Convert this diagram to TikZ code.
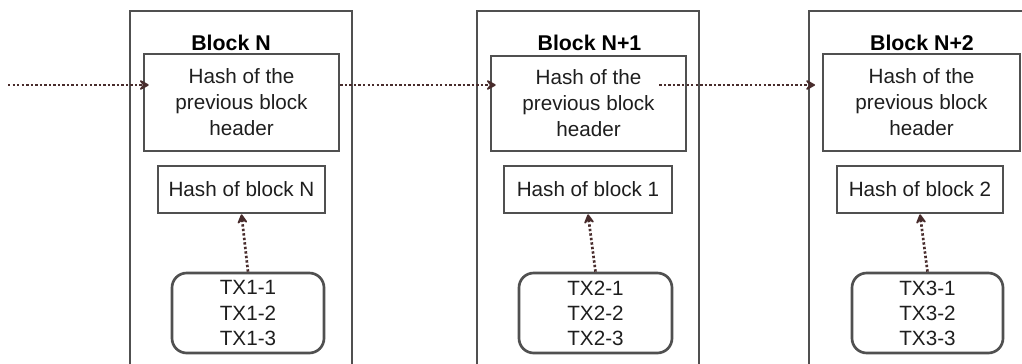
\documentclass[tikz,border=0pt]{standalone}
\usepackage{fontspec}
\setmainfont{Liberation Sans}
\usetikzlibrary{arrows.meta}
\definecolor{edgegray}{RGB}{80,80,80}
\definecolor{arrowc}{RGB}{72,44,44}
\definecolor{txtc}{RGB}{30,30,30}
\tikzset{
  outerblk/.style={draw=edgegray, line width=2pt},
  box/.style={draw=edgegray, line width=2pt, inner sep=0pt, align=center, text=txtc,
              font=\fontsize{15.5}{19.5}\selectfont},
  txbox/.style={box, rounded corners=11pt, font=\fontsize{15.5}{18.8}\selectfont},
  title/.style={font=\bfseries\fontsize{16}{18}\selectfont, text=black, inner sep=0pt},
  arr/.style={draw=arrowc, line width=2pt, dash pattern=on 1.8pt off 1.6pt,
              -{Stealth[length=9pt, width=10pt, inset=4pt, round]}},
}
\begin{document}
\begin{tikzpicture}[x=0.75pt, y=-0.75pt]
\useasboundingbox (0,0) rectangle (1022,364);
\clip (0,0) rectangle (1022,364);
% outer blocks
\draw[outerblk] (130,11) rectangle (352,380);
\draw[outerblk] (477,11) rectangle (699,380);
\draw[outerblk] (809,11) rectangle (1031,380);
% titles
\node[title] (t1) at (231,43) {Block N};
\node[title] (t2) at (589.5,43) {Block N+1};
\node[title] (t3) at (922,43) {Block N+2};
% header boxes
\node[box, minimum width=195*0.75pt, minimum height=97*0.75pt] (h1) at (241.5,102.5) {Hash of the\\previous block\\header};
\node[box, minimum width=195*0.75pt, minimum height=95*0.75pt] (h2) at (588.5,103.5) {Hash of the\\previous block\\header};
\node[box, minimum width=197*0.75pt, minimum height=97*0.75pt] (h3) at (921.5,102.5) {Hash of the\\previous block\\header};
% hash boxes
\node[box, minimum width=167*0.75pt, minimum height=47*0.75pt] (b1) at (241.5,189.5) {Hash of block N};
\node[box, minimum width=168*0.75pt, minimum height=47*0.75pt] (b2) at (588,189.5) {Hash of block 1};
\node[box, minimum width=166*0.75pt, minimum height=47*0.75pt] (b3) at (920,189.5) {Hash of block 2};
% tx boxes
\node[txbox, minimum width=152*0.75pt, minimum height=80*0.75pt] (x1) at (248,313) {TX1-1\\TX1-2\\TX1-3};
\node[txbox, minimum width=153*0.75pt, minimum height=80*0.75pt] (x2) at (595.5,313) {TX2-1\\TX2-2\\TX2-3};
\node[txbox, minimum width=151*0.75pt, minimum height=80*0.75pt] (x3) at (927.5,313) {TX3-1\\TX3-2\\TX3-3};
% vertical arrows
\draw[arr] (x1.north) -- (b1.south);
\draw[arr] (x2.north) -- (b2.south);
\draw[arr] (x3.north) -- (b3.south);
% horizontal arrows
\coordinate (s0) at (8,85);
\draw[arr, shorten >=-4.5pt] (s0) -- (s0 -| h1.west);
\draw[arr, shorten >=-4.5pt] (h1.east |- s0) -- (h2.west |- s0);
\draw[arr, shorten <=-21pt, shorten >=5pt] (h2.east |- s0) -- (h3.west |- s0);
\end{tikzpicture}
\end{document}
